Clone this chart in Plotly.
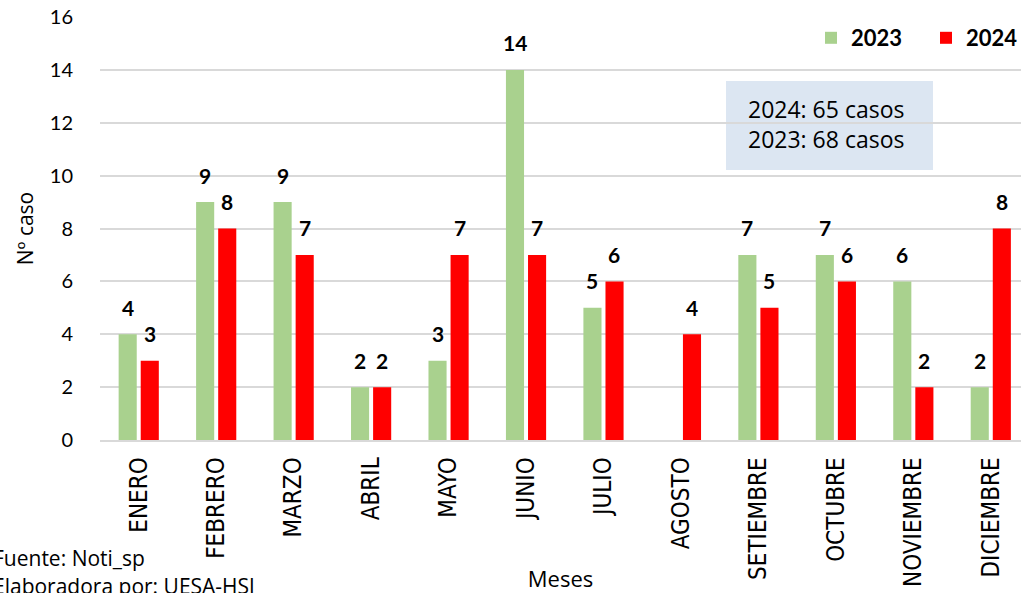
import plotly.graph_objects as go

months = ["ENERO", "FEBRERO", "MARZO", "ABRIL", "MAYO", "JUNIO", "JULIO",
          "AGOSTO", "SETIEMBRE", "OCTUBRE", "NOVIEMBRE", "DICIEMBRE"]
cases_2023 = [4, 9, 9, 2, 3, 14, 5, None, 7, 7, 6, 2]
cases_2024 = [3, 8, 7, 2, 7, 7, 6, 4, 5, 6, 2, 8]
y_ticks = [0, 2, 4, 6, 8, 10, 12, 14, 16]

FONT = "Lato, 'Open Sans', sans-serif"
FONT2 = "'Open Sans', sans-serif"
FONTN = "'Liberation Sans Narrow', 'DejaVu Sans Condensed', sans-serif"

L, T, B = 100, 17, 153
W, H = 1021, 593
PW, PH = W - L, H - T - B

def px(x):
    return (x - L) / PW

def py(y):
    return (H - B - y) / PH

fig = go.Figure()
fig.add_trace(go.Bar(x=months, y=cases_2023, name="<b>2023</b>",
                     marker=dict(color="#A9D18E", line=dict(width=0))))
fig.add_trace(go.Bar(x=months, y=cases_2024, name="<b>2024</b>",
                     marker=dict(color="#FF0000", line=dict(width=0))))

# value labels above the bars
for vals, shift in ((cases_2023, -11), (cases_2024, 11)):
    for m, v in zip(months, vals):
        if v is None:
            continue
        fig.add_annotation(x=m, y=v, xref="x", yref="y", text=f"<b>{v}</b>",
                           showarrow=False, xshift=shift, yshift=27,
                           yanchor="middle",
                           font=dict(family=FONT, size=21, color="black"))

fig.update_layout(
    width=W, height=H,
    margin=dict(l=L, r=0, t=T, b=B, autoexpand=False),
    paper_bgcolor="white", plot_bgcolor="white",
    barmode="group", bargap=0.43, bargroupgap=0.18,
    font=dict(family=FONT, size=20, color="black"),
    legend=dict(orientation="h", x=1.0 + 20 / PW, xanchor="right", y=py(17), yanchor="top",
                font=dict(family=FONT, size=22, color="black"),
                itemwidth=30, entrywidth=70, entrywidthmode="pixels",
                bgcolor="rgba(0,0,0,0)"),
    xaxis=dict(range=[-0.5, 11.39], tickangle=-90, showgrid=False,
               showline=True, linecolor="#D9D9D9", linewidth=1.5,
               ticks="", ticklabelstandoff=6,
               tickfont=dict(family=FONTN, size=24, color="black"),
               title=dict(text="Meses", font=dict(family=FONT2, size=22), standoff=11),
               automargin=False),
    yaxis=dict(range=[0, 16], tickvals=y_ticks, showgrid=True,
               gridcolor="#D9D9D9", gridwidth=1.5, zeroline=False,
               showline=False, ticks="", ticklabelstandoff=26,
               tickfont=dict(family=FONT, size=20, color="black"),
               title=dict(text="Nº caso", font=dict(family=FONT2, size=21), standoff=10),
               automargin=False),
    showlegend=True,
)

fig.add_shape(type="rect", xref="paper", yref="paper",
              x0=px(726), x1=px(933), y0=py(170), y1=py(81),
              fillcolor="#DCE6F2", line=dict(width=0), layer="below")
fig.add_annotation(xref="paper", yref="paper", x=px(826), y=py(124),
                   xanchor="center", yanchor="middle",
                   text="2024: 65 casos<br>2023: 68 casos",
                   showarrow=False, align="left",
                   font=dict(family=FONT2, size=23, color="black"))

fig.add_annotation(xref="paper", yref="paper", x=px(-9), y=py(558),
                   xanchor="left", yanchor="middle", showarrow=False,
                   text="Fuente: Noti_sp", font=dict(family=FONT2, size=21, color="black"))
fig.add_annotation(xref="paper", yref="paper", x=px(-9), y=py(586),
                   xanchor="left", yanchor="middle", showarrow=False,
                   text="Elaboradora por: UESA-HSJ", font=dict(family=FONT2, size=21, color="black"))

fig.write_html("out.html", config={"displayModeBar": False},
               post_script="document.body.style.margin='0';")
